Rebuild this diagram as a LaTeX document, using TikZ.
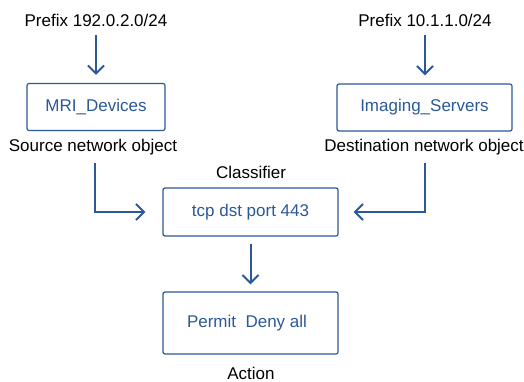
\documentclass[tikz,border=0pt]{standalone}
\usepackage{fontspec}
\setmainfont{Liberation Sans}
\usetikzlibrary{arrows.meta}
\definecolor{cblue}{HTML}{2B5898}
\begin{document}
\begin{tikzpicture}[x=1pt,y=-1pt,
  box/.style={draw=cblue, line width=1.2pt, rounded corners=2pt, text=cblue,
    inner sep=0pt, font=\fontsize{17}{20}\selectfont},
  lbl/.style={text=black, inner sep=0pt, font=\fontsize{17}{20}\selectfont},
  conn/.style={draw=cblue, line width=2pt, -{Straight Barb[length=8pt,width=16pt,line width=2pt]}}]
\useasboundingbox (0,0) rectangle (524,382);
\node[lbl] (pre1) at (96,20) {Prefix 192.0.2.0/24};
\node[lbl] (pre2) at (425,20) {Prefix 10.1.1.0/24};
\node[box, minimum width=138pt, minimum height=47pt] (mri) at (96,107) {MRI\_Devices};
\node[box, minimum width=175pt, minimum height=47pt] (img) at (424.5,107.5) {Imaging\_Servers};
\node[lbl] (srcl) at (93,147) {Source network object};
\node[lbl] (dstl) at (424,147) {Destination network object};
\node[lbl] (clsl) at (251,172) {Classifier};
\node[box, minimum width=175pt, minimum height=48pt] (cls) at (250.5,212) {tcp dst port 443};
\node[box, minimum width=175pt, minimum height=62pt] (act) at (250.5,323) {\hspace*{-7pt}Permit\ \ Deny all};
\node[lbl] (actl) at (251,373) {Action};
\coordinate (s1) at (95,163);
\coordinate (s2) at (425,163);
\draw[conn, shorten <=9pt, shorten >=8pt] (pre1.south) -- (pre1.south |- mri.north);
\draw[conn, shorten <=9pt, shorten >=8pt] (pre2.south) -- (pre2.south |- img.north);
\draw[conn, shorten >=17pt] (s1) |- (cls.west);
\draw[conn, shorten >=15pt] (s2) |- (cls.east);
\draw[conn, shorten <=7pt, shorten >=7pt] (cls.south) -- (act.north);
\end{tikzpicture}
\end{document}
